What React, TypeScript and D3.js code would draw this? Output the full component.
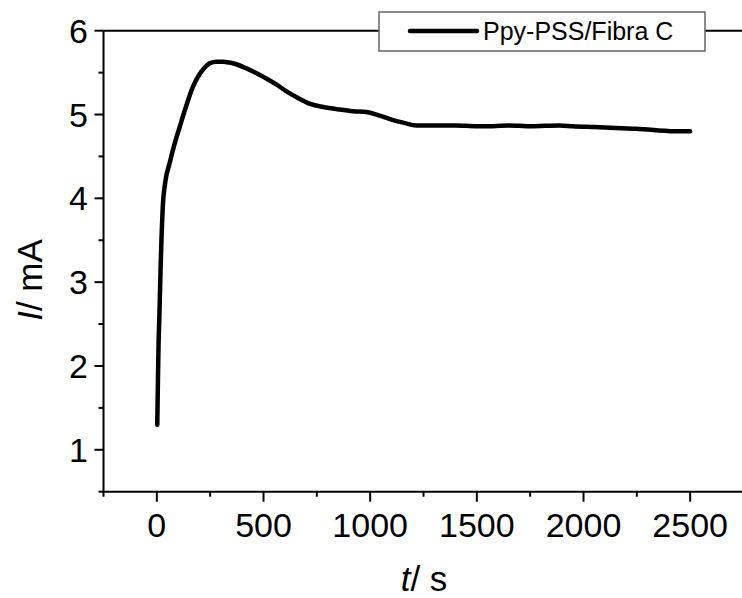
import React from "react";
import * as d3 from "d3";

const tValues = [2, 5, 8, 12, 18, 28, 40, 60, 80, 107, 135, 169, 200, 225, 247, 280, 309, 340, 372, 420, 470, 513, 560, 606, 660, 715, 780, 856, 920, 981, 1040, 1100, 1160, 1216, 1300, 1400, 1500, 1575, 1650, 1750, 1887, 1950, 2050, 2150, 2250, 2350, 2450, 2500];
const iValues = [1.3, 1.8, 2.25, 2.6, 3.2, 3.9, 4.2, 4.42, 4.62, 4.85, 5.08, 5.33, 5.48, 5.56, 5.61, 5.63, 5.63, 5.62, 5.6, 5.55, 5.49, 5.43, 5.36, 5.28, 5.2, 5.13, 5.09, 5.06, 5.04, 5.03, 4.99, 4.94, 4.9, 4.87, 4.87, 4.87, 4.86, 4.86, 4.87, 4.86, 4.87, 4.86, 4.85, 4.84, 4.83, 4.81, 4.8, 4.8];
const xMajor = [0, 500, 1000, 1500, 2000, 2500];
const xMinor = [-250, 250, 750, 1250, 1750, 2250];
const yMajor = [1, 2, 3, 4, 5, 6];
const yMinor = [0.5, 1.5, 2.5, 3.5, 4.5, 5.5];
const seriesName = "Ppy-PSS/Fibra C";

export default function App() {
  const W = 742, H = 598;
  const x = d3.scaleLinear().domain([-250, 2750]).range([103.5, 743.5]);
  const y = d3.scaleLinear().domain([0.5, 6]).range([491.7, 30.7]);
  const data = tValues.map((t, i) => [t, iValues[i]] as [number, number]);
  const line = d3.line<[number, number]>().x(d => x(d[0])).y(d => y(d[1])).curve(d3.curveMonotoneX);
  const x0 = x(-250), x1 = W;
  const yTop = y(6), yBot = y(0.5);
  const font = "Arial, 'Liberation Sans', sans-serif";
  return (
    <svg width={W} height={H} style={{ position: "absolute", left: 0, top: 0, background: "#fff" }} fontFamily={font}>
      {/* frame */}
      <line x1={x0} x2={x1} y1={yTop} y2={yTop} stroke="#000" strokeWidth={2} />
      <line x1={x0} x2={x0} y1={yTop} y2={yBot} stroke="#000" strokeWidth={2} />
      <line x1={x0} x2={x1} y1={yBot} y2={yBot} stroke="#000" strokeWidth={2} />
      {/* x ticks */}
      {xMajor.map(v => (
        <g key={"xm" + v}>
          <line x1={x(v)} x2={x(v)} y1={yBot} y2={yBot + 10} stroke="#000" strokeWidth={2} />
          <text x={x(v)} y={537} fontSize={34} textAnchor="middle">{v}</text>
        </g>
      ))}
      {xMinor.map(v => (
        <line key={"xn" + v} x1={x(v)} x2={x(v)} y1={yBot} y2={yBot + 5} stroke="#000" strokeWidth={2} />
      ))}
      {/* y ticks */}
      {yMajor.map(v => (
        <g key={"ym" + v}>
          <line x1={x0} x2={x0 - 9} y1={y(v)} y2={y(v)} stroke="#000" strokeWidth={2} />
          <text x={88} y={y(v) + 12} fontSize={34} textAnchor="end">{v}</text>
        </g>
      ))}
      {yMinor.map(v => (
        <line key={"yn" + v} x1={x0} x2={x0 - 5} y1={y(v)} y2={y(v)} stroke="#000" strokeWidth={2} />
      ))}
      {/* data */}
      <path d={line(data) || ""} fill="none" stroke="#000" strokeWidth={4.5} strokeLinejoin="round" strokeLinecap="round" />
      {/* legend */}
      <rect x={379} y={12} width={326} height={39} fill="#fff" stroke="#666" strokeWidth={1.5} />
      <line x1={410} x2={477} y1={31} y2={31} stroke="#000" strokeWidth={4.5} strokeLinecap="round" />
      <text x={483} y={40} fontSize={25}>{seriesName}</text>
      {/* axis titles */}
      <text x={424} y={591} fontSize={35} textAnchor="middle">
        <tspan fontStyle="italic">t</tspan>/ s
      </text>
      <text transform={`translate(42,${280}) rotate(-90)`} fontSize={35} textAnchor="middle">
        <tspan fontStyle="italic">I</tspan>/ mA
      </text>
    </svg>
  );
}
